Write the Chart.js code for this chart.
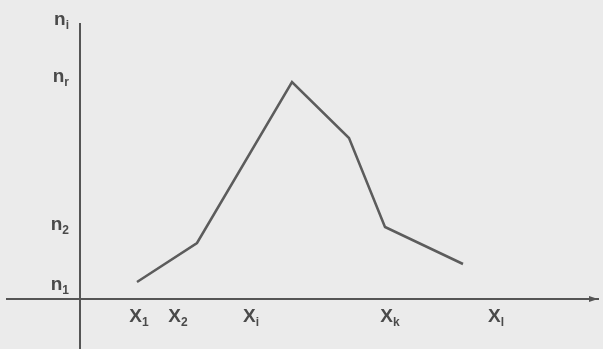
<!DOCTYPE html>
<html>
<head>
<meta charset="utf-8">
<script src="https://cdn.jsdelivr.net/npm/chart.js@4/dist/chart.umd.min.js"></script>
<style>
  html, body { margin: 0; padding: 0; background: #ebebeb; }
  canvas { display: block; }
</style>
</head>
<body>
<canvas id="myChart" width="603" height="349"></canvas>
<script>
// polygon vertices (arbitrary units, origin where the axes cross)
var pointX = [5.7, 11.7, 21.2, 26.9, 30.5, 38.3];
var pointY = [1.7, 5.6, 21.7, 16.1, 7.2, 3.5];

// tick positions and labels (letter + subscript)
var xTickVals = [5.9, 9.8, 17.1, 31.0, 41.6];
var xTickMain = ['X', 'X', 'X', 'X', 'X'];
var xTickSub = ['1', '2', 'i', 'k', 'l'];
var yTickVals = [1.5, 7.5, 22.3, 28.0];
var yTickMain = ['n', 'n', 'n', 'n'];
var yTickSub = ['1', '2', 'r', 'i'];

var axisColor = '#555';
var lineColor = '#5c5c5c';
var textColor = '#4a4a4a';
var mainFont = 'bold 19px "Liberation Sans"';
var subFont = 'bold 12px "Liberation Sans"';

// draws the axis labels as letter with a smaller, lowered subscript
var subLabels = {
  id: 'subLabels',
  afterDraw(chart) {
    var c = chart.ctx;
    var xs = chart.scales.x, ys = chart.scales.y;
    var x0 = xs.getPixelForValue(0), y0 = ys.getPixelForValue(0);
    c.save();
    c.fillStyle = textColor;
    c.textBaseline = 'alphabetic';
    c.textAlign = 'left';
    xs.ticks.forEach((t, i) => {
      c.font = mainFont;
      var wm = c.measureText(xTickMain[i]).width;
      c.font = subFont;
      var ws = c.measureText(xTickSub[i]).width;
      var left = xs.getPixelForValue(t.value) - (wm + ws) / 2;
      var base = y0 + 23;
      c.font = mainFont;
      c.fillText(xTickMain[i], left, base);
      c.font = subFont;
      c.fillText(xTickSub[i], left + wm, base + 4);
    });
    ys.ticks.forEach((t, i) => {
      c.font = mainFont;
      var wm = c.measureText(yTickMain[i]).width;
      c.font = subFont;
      var ws = c.measureText(yTickSub[i]).width;
      var right = x0 - 11;
      var base = ys.getPixelForValue(t.value) + 6;
      c.font = mainFont;
      c.fillText(yTickMain[i], right - wm - ws, base);
      c.font = subFont;
      c.fillText(yTickSub[i], right - ws, base + 4);
    });
    // small arrow head at the end of the x axis
    var xr = chart.chartArea.right;
    c.fillStyle = axisColor;
    c.beginPath();
    c.moveTo(xr, y0);
    c.lineTo(xr - 9, y0 - 3);
    c.lineTo(xr - 9, y0 + 3);
    c.closePath();
    c.fill();
    c.restore();
  }
};

var ctx = document.getElementById('myChart').getContext('2d');
var chart = new Chart(ctx, {
  type: 'scatter',
  data: {
    datasets: [{
      data: pointX.map((x, i) => ({x: x, y: pointY[i]})),
      showLine: true,
      borderColor: lineColor,
      borderWidth: 2.5,
      pointRadius: 0,
      tension: 0
    }]
  },
  options: {
    responsive: false,
    animation: false,
    layout: { padding: { left: 7, right: 5, top: 24, bottom: 0 } },
    plugins: { legend: { display: false }, tooltip: { enabled: false } },
    scales: {
      x: {
        type: 'linear',
        min: -7.3, max: 51.8,
        position: { y: 0 },
        grid: { display: false },
        border: { display: true, color: axisColor, width: 2 },
        afterFit: s => { s.height = 0; },
        afterBuildTicks: s => { s.ticks = xTickVals.map(v => ({value: v})); },
        ticks: { display: false }
      },
      y: {
        type: 'linear',
        min: -5.0, max: 27.5,
        position: { x: 0 },
        grid: { display: false },
        border: { display: true, color: axisColor, width: 2 },
        afterFit: s => { s.width = 0; },
        afterBuildTicks: s => { s.ticks = yTickVals.map(v => ({value: v})); },
        ticks: { display: false }
      }
    }
  },
  plugins: [subLabels]
});
</script>
</body>
</html>
